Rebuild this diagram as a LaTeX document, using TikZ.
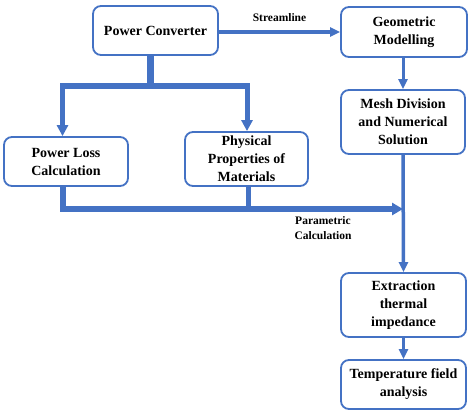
\documentclass[tikz,border=0pt]{standalone}
\usepackage{fontspec}
\setmainfont{Liberation Serif}
\usetikzlibrary{arrows.meta,calc}
\definecolor{cblue}{HTML}{4472C4}
\begin{document}
\begin{tikzpicture}[x=1pt,y=-1pt,
  box/.style={draw=cblue,line width=1.8pt,rounded corners=8pt,fill=white,
    align=center,inner sep=2pt,font=\fontsize{14}{18}\selectfont\bfseries},
  lbl/.style={font=\fontsize{11.5}{15}\selectfont\bfseries,align=center,inner sep=0pt},
  conn/.style={draw=cblue}]
\useasboundingbox (0,0) rectangle (471,413);
\node[box,minimum width=125pt,minimum height=49pt] (pc) at (155.5,30.5) {Power Converter};
\node[box,minimum width=126pt,minimum height=50pt] (geo) at (404,32) {Geometric\\Modelling};
\node[box,minimum width=124pt,minimum height=64pt] (mesh) at (403,122) {Mesh Division\\and Numerical\\Solution};
\node[box,minimum width=124pt,minimum height=49pt] (ploss) at (66,161.5) {Power Loss\\Calculation};
\node[box,minimum width=123pt,minimum height=54pt] (phys) at (246.5,159) {Physical\\Properties of\\Materials};
\node[box,minimum width=125pt,minimum height=64pt] (extr) at (403.5,305) {Extraction\\thermal\\impedance};
\node[box,minimum width=125pt,minimum height=49pt] (temp) at (403.5,384.5) {Temperature field\\analysis};
% junction coordinates
\coordinate (jtop) at (150,86);
\coordinate (jl) at (62.5,86);
\coordinate (jr) at (247,86);
\coordinate (bl) at (63,209);
\coordinate (br) at (248,209);
\coordinate (bend) at (403,209);
% streamline
\draw[conn,line width=3.5pt,-{Triangle[width=9pt,length=10pt]}] (pc.east |- geo.west) -- (geo.west)
  node[lbl,midway,above=9pt] (sl) {Streamline};
% power converter split
\draw[conn,line width=7pt] (pc.south -| jtop) -- ($(jtop)+(0,3)$);
\draw[conn,line width=6pt] (jl) -- (jr);
\draw[conn,line width=5pt,-{Triangle[width=11pt,length=11pt]}] ($(jl)+(0,-3)$) -- (ploss.north -| jl);
\draw[conn,line width=5pt,-{Triangle[width=11pt,length=11pt]}] ($(jr)+(0,-3)$) -- (phys.north -| jr);
% bottom collection
\draw[conn,line width=6pt] (ploss.south -| bl) -- ($(bl)+(0,3)$);
\draw[conn,line width=5pt] (phys.south -| br) -- (br);
\draw[conn,line width=6pt,-{Triangle[width=12pt,length=11pt]}] ($(bl)+(-3,0)$) -- (bend);
\node[lbl,anchor=north] (pcalc) at (323,216) {Parametric\\Calculation};
% right column
\draw[conn,line width=3pt,-{Triangle[width=9pt,length=10pt]}] (geo.south -| mesh.south) -- (mesh.north);
\draw[conn,line width=3.5pt,-{Triangle[width=9pt,length=10pt]}] (mesh.south) -- (extr.north);
\draw[conn,line width=3.5pt,-{Triangle[width=9pt,length=10pt]}] (extr.south) -- (temp.north);
\end{tikzpicture}
\end{document}
